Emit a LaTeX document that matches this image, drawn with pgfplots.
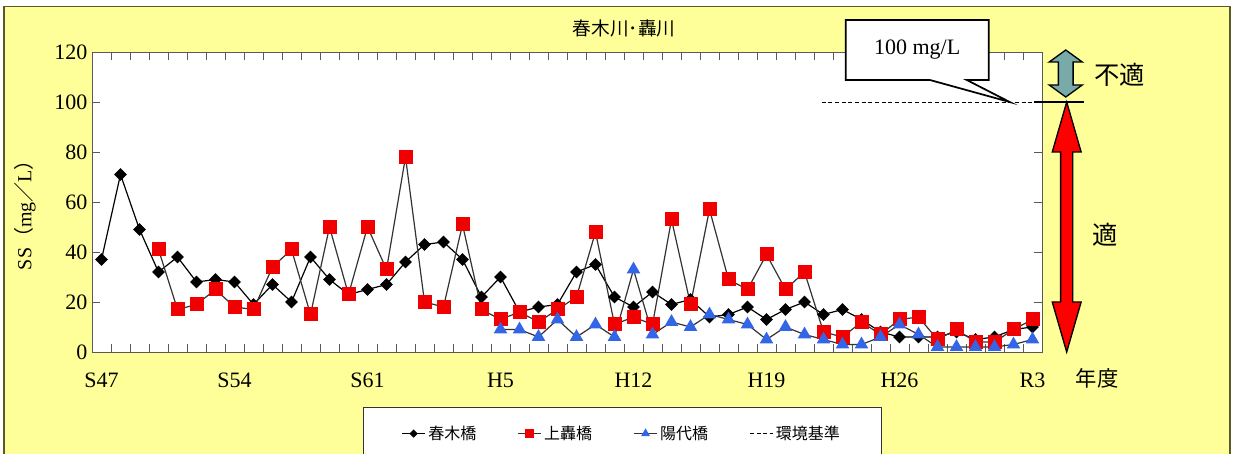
\documentclass[border=0pt]{standalone}
\usepackage{pgfplots}
\pgfplotsset{compat=1.18}
\usepackage{fontspec}
\setmainfont{Liberation Serif}
\newfontfamily\cjk{Noto Sans CJK JP}
\definecolor{bgyellow}{RGB}{255,255,153}
\definecolor{frameolive}{RGB}{90,90,40}
\definecolor{mkblue}{RGB}{51,102,230}
\definecolor{mkred}{RGB}{240,0,0}
\definecolor{arrteal}{RGB}{120,170,170}
\begin{document}
\begin{tikzpicture}
\useasboundingbox (0,0) rectangle (925.5pt,339.75pt);
\clip (0,0) rectangle (925.5pt,339.75pt);
\fill[white] (0,0) rectangle (925.5pt,339.75pt);
\filldraw[fill=bgyellow, draw=frameolive, line width=1pt] (3pt,-5pt) rectangle (922.5pt,335pt);
\begin{axis}[
  scale only axis, width=712.5pt, height=225pt,
  at={(69pt,75.75pt)}, anchor=south west,
  xmin=-0.5, xmax=49.5, ymin=0, ymax=120,
  clip=false,
  axis background/.style={fill=white},
  axis line style={gray!70!black},
  every tick/.style={gray!70!black},
  major tick length=6pt,
  xtick={-0.5,0.5,...,49.5}, xticklabels={},
  extra x ticks={0,7,14,21,28,35,42,49},
  extra x tick labels={S47,S54,S61,H5,H12,H19,H26,R3},
  extra x tick style={major tick length=0pt},
  xticklabel style={yshift=-12pt},
  ytick={0,20,...,120},
  /pgf/number format/assume math mode=true,
  tick label style={font=\fontsize{16.5}{18}\selectfont},
  ylabel={SS{\cjk （}mg{\cjk ／}L{\cjk ）}},
  ylabel style={at={(axis description cs:-0.0705,0.473)}, anchor=center, font=\fontsize{15}{17}\selectfont},
  title={春木川･轟川},
  title style={at={(axis description cs:0.56,1.053)}, anchor=center, yshift=0pt, font=\cjk\fontsize{14}{16}\selectfont},
  legend columns=4,
  legend cell align=left,
  legend style={at={(0.558,-0.183)}, anchor=north, draw=black!80, fill=white,
    font=\cjk\fontsize{12}{14}\selectfont, inner xsep=29pt, inner ysep=12pt,
    /tikz/every even column/.append style={column sep=29pt}},
  legend image post style={/tikz/every mark/.append style={scale=0.6}},
]
% 春木橋
\addplot[black, line width=0.9pt, mark=square*, mark size=2.9pt,
  mark options={rotate=45, fill=black, draw=black}] coordinates {
  (0,37)(1,71)(2,49)(3,32)(4,38)(5,28)(6,29)(7,28)(8,19)(9,27)
  (10,20)(11,38)(12,29)(13,23)(14,25)(15,27)(16,36)(17,43)(18,44)(19,37)
  (20,22)(21,30)(22,16)(23,18)(24,19)(25,32)(26,35)(27,22)(28,18)(29,24)
  (30,19)(31,21)(32,14)(33,15)(34,18)(35,13)(36,17)(37,20)(38,15)(39,17)
  (40,13)(41,8)(42,6)(43,6)(44,6)(45,8)(46,5)(47,6)(48,9)(49,10)
};
\addlegendentry{春木橋}
% 上轟橋
\addplot[black!80, line width=0.9pt, mark=square*, mark size=4.8pt,
  mark options={fill=mkred, draw=mkred}] coordinates {
  (3,41)(4,17)(5,19)(6,25)(7,18)(8,17)(9,34)
  (10,41)(11,15)(12,50)(13,23)(14,50)(15,33)(16,78)(17,20)(18,18)(19,51)
  (20,17)(21,13)(22,16)(23,12)(24,17)(25,22)(26,48)(27,11)(28,14)(29,11)
  (30,53)(31,19)(32,57)(33,29)(34,25)(35,39)(36,25)(37,32)(38,8)(39,6)
  (40,12)(41,7)(42,13)(43,14)(44,5)(45,9)(46,4)(47,4)(48,9)(49,13)
};
\addlegendentry{上轟橋}
% 陽代橋
\addplot[black!80, line width=0.9pt, mark=triangle*, mark size=5pt,
  mark options={fill=mkblue, draw=mkblue}] coordinates {
  (21,9)(22,9)(23,6)(24,13)(25,6)(26,11)(27,6)(28,33)(29,7)
  (30,12)(31,10)(32,15)(33,13)(34,11)(35,5)(36,10)(37,7)(38,5)(39,3)
  (40,3)(41,6)(42,11)(43,7)(44,2)(45,2)(46,2)(47,2)(48,3)(49,5)
};
\addlegendentry{陽代橋}
% 環境基準
\addplot[black, line width=0.7pt, densely dashed] coordinates {(37.9,100) (49.1,100)};
\addlegendentry{環境基準}

\draw[black, line width=0.9pt] (49.1,100) -- (51.7,100);
% callout
\filldraw[fill=white, draw=black, line width=1.3pt]
  (39.17,132.8) -- (46.7,132.8) -- (46.7,108.8) -- (45.54,108.8) -- (47.8,100)
  -- (43.6,108.8) -- (39.17,108.8) -- cycle;
\node[font=\fontsize{16.5}{18}\selectfont] at (42.93,121) {100 mg/L};
% arrows
\filldraw[fill=arrteal, draw=black, line width=1pt]
  (50.75,120.8) -- (51.62,116) -- (51.14,116) -- (51.14,106.8) -- (51.62,106.8)
  -- (50.75,102) -- (49.88,106.8) -- (50.36,106.8) -- (50.36,116) -- (49.88,116) -- cycle;
\filldraw[fill=red, draw=black, line width=1pt]
  (50.8,100) -- (51.56,80) -- (51.12,80) -- (51.12,20) -- (51.56,20)
  -- (50.8,0) -- (50.04,20) -- (50.48,20) -- (50.48,80) -- (50.04,80) -- cycle;
\node[font=\cjk\fontsize{19}{21}\selectfont] at (53.6,110.8) {不適};
\node[font=\cjk\fontsize{19}{21}\selectfont] at (52.8,46.8) {適};
\node[font=\cjk\fontsize{16}{18}\selectfont] at (52.4,-10.4) {年度};
\end{axis}
\end{tikzpicture}
\end{document}
